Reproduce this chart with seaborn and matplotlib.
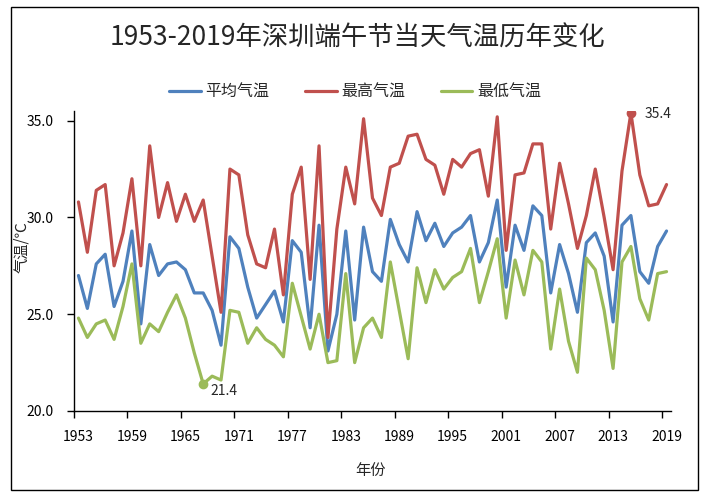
import numpy as np
import pandas as pd
import seaborn as sns
import matplotlib.pyplot as plt
from matplotlib.patches import Rectangle
from matplotlib.ticker import FormatStrFormatter

# ---- data ----
years = list(range(1953, 2020))

avg_temp = [27.0, 25.3, 27.6, 28.1, 25.4, 26.7, 29.3, 24.5, 28.6, 27.0,
            27.6, 27.7, 27.3, 26.1, 26.1, 25.2, 23.4, 29.0, 28.4, 26.4,
            24.8, 25.5, 26.2, 24.6, 28.8, 28.2, 24.3, 29.6, 23.1, 25.0,
            29.3, 24.7, 29.5, 27.2, 26.7, 29.9, 28.6, 27.7, 30.3, 28.8,
            29.7, 28.5, 29.2, 29.5, 30.1, 27.7, 28.7, 30.9, 26.4, 29.6,
            28.3, 30.6, 30.1, 26.1, 28.6, 27.1, 25.1, 28.7, 29.2, 28.0,
            24.6, 29.6, 30.1, 27.2, 26.6, 28.5, 29.3]

max_temp = [30.8, 28.2, 31.4, 31.7, 27.5, 29.2, 32.0, 27.5, 33.7, 30.0,
            31.8, 29.8, 31.2, 29.8, 30.9, 28.0, 25.1, 32.5, 32.2, 29.1,
            27.6, 27.4, 29.4, 26.0, 31.2, 32.6, 26.8, 33.7, 23.8, 29.4,
            32.6, 30.7, 35.1, 31.0, 30.1, 32.6, 32.8, 34.2, 34.3, 33.0,
            32.7, 31.2, 33.0, 32.6, 33.3, 33.5, 31.1, 35.2, 28.3, 32.2,
            32.3, 33.8, 33.8, 29.4, 32.8, 30.7, 28.4, 30.1, 32.5, 30.0,
            27.3, 32.4, 35.4, 32.2, 30.6, 30.7, 31.7]

min_temp = [24.8, 23.8, 24.5, 24.7, 23.7, 25.4, 27.6, 23.5, 24.5, 24.1,
            25.1, 26.0, 24.8, 23.0, 21.4, 21.8, 21.6, 25.2, 25.1, 23.5,
            24.3, 23.7, 23.4, 22.8, 26.6, 24.9, 23.2, 25.0, 22.5, 22.6,
            27.1, 22.5, 24.3, 24.8, 23.8, 27.7, 25.2, 22.7, 27.4, 25.6,
            27.3, 26.3, 26.9, 27.2, 28.4, 25.6, 27.2, 28.9, 24.8, 27.8,
            26.0, 28.3, 27.7, 23.2, 26.3, 23.6, 22.0, 27.9, 27.3, 25.2,
            22.2, 27.7, 28.5, 25.8, 24.7, 27.1, 27.2]

series_names = ["平均气温", "最高气温", "最低气温"]
colors = ["#4F81BD", "#C0504D", "#9BBB59"]

df = pd.DataFrame({"年份": years, "平均气温": avg_temp,
                   "最高气温": max_temp, "最低气温": min_temp})
df_long = df.melt(id_vars="年份", var_name="类型", value_name="气温")

# ---- style ----
sns.set_style("white")
plt.rcParams["font.family"] = ["Noto Sans CJK SC", "DejaVu Sans"]

W, H = 710, 497
fig = plt.figure(figsize=(W / 100, H / 100), dpi=100)
ax = fig.add_axes([74 / W, 1 - 411 / H, 597 / W, 300 / H])

sns.lineplot(data=df_long, x="年份", y="气温", hue="类型",
             hue_order=series_names, palette=colors, linewidth=2.3, ax=ax)

# highlight the highest max and lowest min
i_max = int(np.argmax(max_temp))
i_min = int(np.argmin(min_temp))
ax.plot(years[i_max], max_temp[i_max], "o", color=colors[1], ms=6, zorder=5)
ax.plot(years[i_min], min_temp[i_min], "o", color=colors[2], ms=6, zorder=5)
ax.annotate(f"{max_temp[i_max]:.1f}", (years[i_max], max_temp[i_max]),
            xytext=(10, -1), textcoords="offset points",
            ha="left", va="center", fontsize=10)
ax.annotate(f"{min_temp[i_min]:.1f}", (years[i_min], min_temp[i_min]),
            xytext=(5, -5), textcoords="offset points",
            ha="left", va="center", fontsize=10)

# ---- axes ----
ax.set_xlim(1952.5, 2019.5)
ax.set_ylim(20, 35.5)
ax.set_yticks([20, 25, 30, 35])
ax.yaxis.set_major_formatter(FormatStrFormatter("%.1f"))
ax.set_xticks(years[::6])
ax.set_xticks(np.arange(1952.5, 2020, 6), minor=True)
ax.tick_params(axis="x", which="major", bottom=True, length=0, pad=14,
               labelsize=10, labelcolor="black")
ax.tick_params(axis="x", which="minor", bottom=True, length=5, width=1,
               direction="out", color="black")
ax.tick_params(axis="y", left=True, length=5, width=1, direction="out",
               color="black", pad=10, labelsize=10, labelcolor="black")

for side in ["top", "right"]:
    ax.spines[side].set_visible(False)
for side in ["left", "bottom"]:
    ax.spines[side].set_color("black")
    ax.spines[side].set_linewidth(1)

ax.set_xlabel("年份", fontsize=11)
ax.xaxis.label.set_va("center")
ax.xaxis.set_label_coords(0.496, -0.197)
ax.set_ylabel("气温/℃", fontsize=11)
ax.yaxis.label.set_va("center")
ax.yaxis.set_label_coords(-0.087, 0.547)

ax.legend(loc="center", bbox_to_anchor=(355 / W, 1 - 92 / H),
          bbox_transform=fig.transFigure, ncol=3, frameon=False, fontsize=11.5,
          handlelength=2.0, handletextpad=0.3, columnspacing=2.2)

fig.text(357 / W, 1 - 38 / H, "1953-2019年深圳端午节当天气温历年变化",
         ha="center", va="center", fontsize=19)

# chart border
fig.add_artist(Rectangle((11 / W, 7 / H), 687 / W, 483 / H,
                         transform=fig.transFigure, fill=False,
                         edgecolor="black", linewidth=1))

fig.savefig("out.png", dpi=100)
